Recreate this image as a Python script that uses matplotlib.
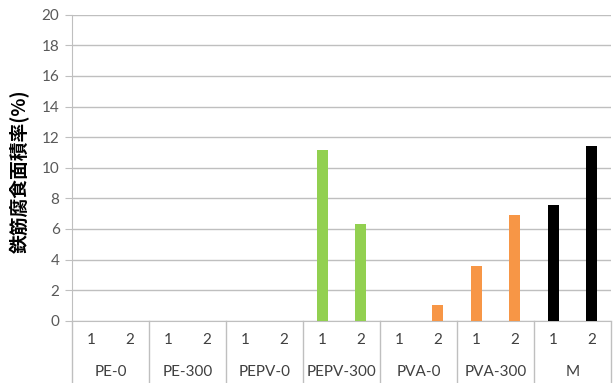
import matplotlib
matplotlib.use("Agg")
import matplotlib.pyplot as plt
import numpy as np

groups = ["PE-0", "PE-300", "PEPV-0", "PEPV-300", "PVA-0", "PVA-300", "M"]
sub_labels = ["1", "2"]
values = [0, 0, 0, 0, 0, 0, 11.15, 6.35, 0, 1.0, 3.6, 6.9, 7.58, 11.45]
group_colors = ["#92D050", "#92D050", "#92D050", "#92D050", "#F79646", "#F79646", "#000000"]
y_label = "鉄筋腐食面積率(%)"

plt.rcParams['font.family'] = ['Lato', 'Noto Sans CJK JP', 'DejaVu Sans']

fig = plt.figure(figsize=(6.13, 3.83), dpi=100)
ax_bottom = 1 - 320.7 / 383
ax_top = 1 - 14.7 / 383
ax_left = 72 / 613
ax_right = 611 / 613
ax = fig.add_axes([ax_left, ax_bottom, ax_right - ax_left, ax_top - ax_bottom])

n = len(values)
x = np.arange(n)
colors = [group_colors[i // 2] for i in range(n)]
ax.bar(x, values, width=0.29, color=colors, zorder=3)

ax.set_xlim(-0.5, n - 0.5)
ax.set_ylim(0, 20)
ax.set_yticks(np.arange(0, 21, 2))
ax.yaxis.grid(True, color="#BFBFBF", linewidth=1.0, zorder=0)
ax.set_axisbelow(True)
ax.tick_params(axis='y', length=5, color="#BFBFBF", labelsize=11, labelcolor="#595959", pad=4)
ax.set_xticks([])
for s in ["top", "right"]:
    ax.spines[s].set_visible(False)
ax.spines["left"].set_color("#BFBFBF")
ax.spines["bottom"].set_color("#BFBFBF")

ax.text(-52 / 539 * 1.0, 0.49, y_label, transform=ax.transAxes, rotation=90,
        ha="center", va="center", fontsize=13.5, fontweight="bold", color="#000000",
        family=['Noto Sans CJK JP', 'DejaVu Sans'])

# multi-level category axis
fig_bottom_axes = -ax_bottom / (ax_top - ax_bottom)
trans = ax.get_xaxis_transform()
for g in range(len(groups) + 1):
    xs = g * 2 - 0.5
    ax.plot([xs, xs], [0, fig_bottom_axes], transform=trans, color="#BFBFBF",
            linewidth=1.0, clip_on=False)
px_per_axes = (ax_top - ax_bottom) * 383
sub_y = -(340 - 320.7) / px_per_axes
grp_y = -(372 - 320.7) / px_per_axes
for i in range(n):
    ax.text(x[i], sub_y, sub_labels[i % 2], transform=trans, ha="center", va="center",
            fontsize=11, color="#404040")
for g, name in enumerate(groups):
    ax.text(g * 2 + 0.5, grp_y, name, transform=trans, ha="center", va="center",
            fontsize=11, color="#404040")

fig.savefig("out.png", dpi=100)
